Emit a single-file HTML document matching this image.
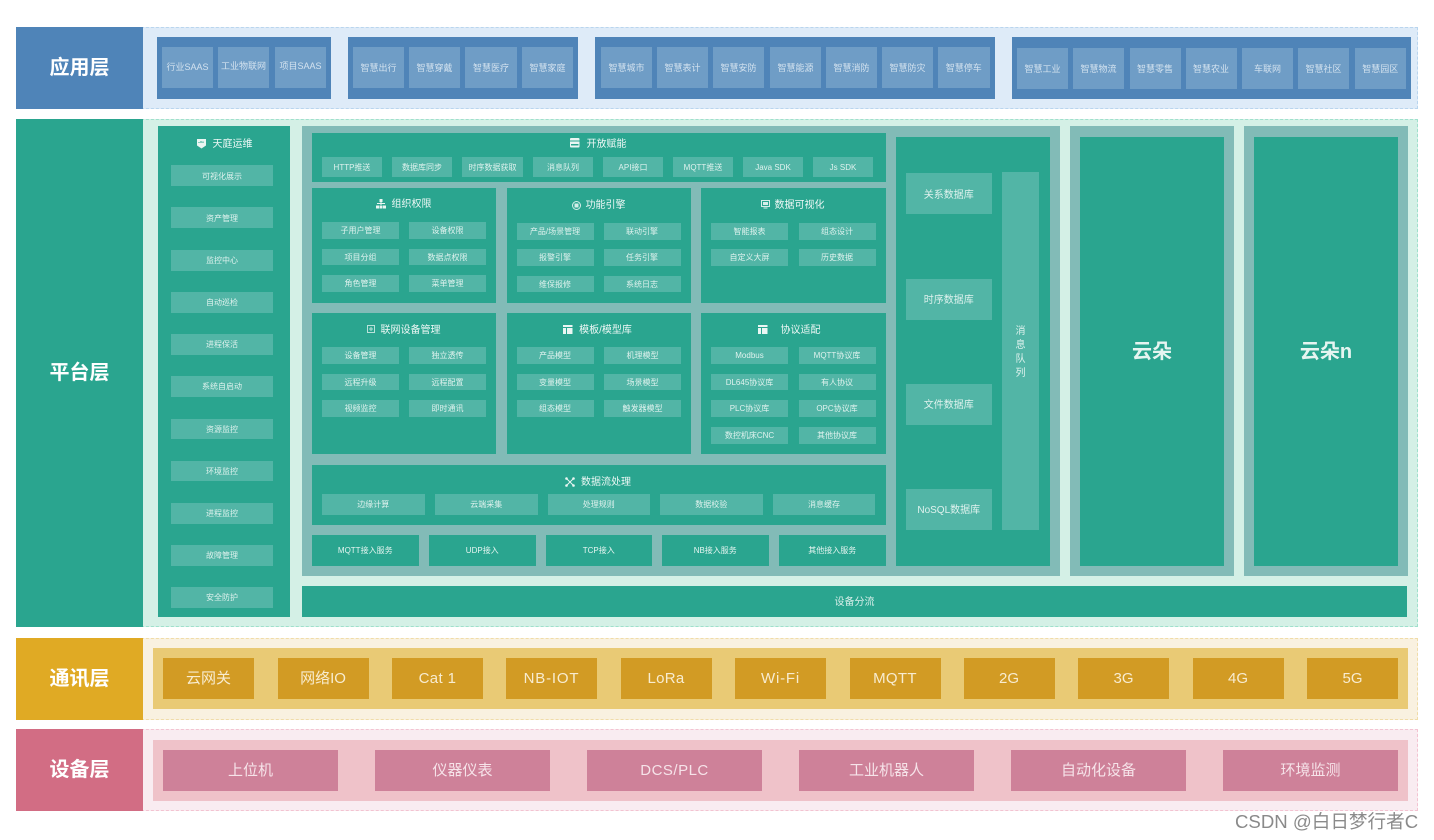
<!DOCTYPE html>
<html lang="zh-CN"><head><meta charset="utf-8"><title>架构图</title>
<style>
html,body{margin:0;padding:0;background:#fff;width:1434px;height:840px;overflow:hidden}
#r{position:relative;width:1434px;height:840px;overflow:hidden;font-family:"Liberation Sans","Noto Sans CJK SC",sans-serif;filter:blur(.35px)}
#r div{position:absolute;box-sizing:border-box;display:flex;align-items:center;justify-content:center;text-align:center;white-space:nowrap;line-height:1}
.o{border:1px dashed}
.l{font-size:20px;font-weight:bold;color:#fff}
.ab{background:#4f84b8}
.ai{background:#6f9dc6;color:#d3e2ef;font-size:9px;padding-top:2px}
.p{background:#2aa58f;color:#e6f5f1}
.g{background:#82bbb7}
.s{background:#52b5a6;color:#dff2ee;font-size:8px;padding-top:2px}
.t{color:#eef8f6;font-size:10px;padding-top:2px}
.m{font-size:8px}
.c{background:#d29b24;color:#f8ecd0;font-size:15px}
.d{background:#ce8199;color:#f6e3e9;font-size:15px}
svg{position:absolute}
</style></head><body><div id="r">

<!-- 应用层 -->
<div class="o" style="left:16px;top:27px;width:1402px;height:82px;background:#deebf8;border-color:#b9d5ee"></div>
<div class="l ab" style="left:16px;top:27px;width:127px;height:82px">应用层</div>
<div class="ab" style="left:157px;top:37px;width:174px;height:61.5px"></div>
<div class="ai" style="left:162px;top:47px;width:51px;height:41px;padding-top:0">行业SAAS</div>
<div class="ai" style="left:218px;top:47px;width:51px;height:41px;padding-top:0;padding-bottom:2px">工业物联网</div>
<div class="ai" style="left:275px;top:47px;width:51px;height:41px;padding-top:0;padding-bottom:2px">项目SAAS</div>
<div class="ab" style="left:347.5px;top:37px;width:230.5px;height:61.5px"></div>
<div class="ai" style="left:353px;top:47px;width:51px;height:41px">智慧出行</div>
<div class="ai" style="left:409px;top:47px;width:51px;height:41px">智慧穿戴</div>
<div class="ai" style="left:465px;top:47px;width:52px;height:41px">智慧医疗</div>
<div class="ai" style="left:522px;top:47px;width:51px;height:41px">智慧家庭</div>
<div class="ab" style="left:595px;top:37px;width:400px;height:61.5px"></div>
<div class="ai" style="left:601px;top:47px;width:51px;height:41px">智慧城市</div>
<div class="ai" style="left:657px;top:47px;width:51px;height:41px">智慧表计</div>
<div class="ai" style="left:713px;top:47px;width:51px;height:41px">智慧安防</div>
<div class="ai" style="left:770px;top:47px;width:51px;height:41px">智慧能源</div>
<div class="ai" style="left:826px;top:47px;width:51px;height:41px">智慧消防</div>
<div class="ai" style="left:882px;top:47px;width:51px;height:41px">智慧防灾</div>
<div class="ai" style="left:938px;top:47px;width:51.5px;height:41px">智慧停车</div>
<div class="ab" style="left:1011.5px;top:37px;width:399.5px;height:61.5px"></div>
<div class="ai" style="left:1017px;top:47.5px;width:51px;height:41px">智慧工业</div>
<div class="ai" style="left:1073px;top:47.5px;width:51px;height:41px">智慧物流</div>
<div class="ai" style="left:1129.5px;top:47.5px;width:51px;height:41px">智慧零售</div>
<div class="ai" style="left:1185.5px;top:47.5px;width:51px;height:41px">智慧农业</div>
<div class="ai" style="left:1242px;top:47.5px;width:51px;height:41px">车联网</div>
<div class="ai" style="left:1298px;top:47.5px;width:51px;height:41px">智慧社区</div>
<div class="ai" style="left:1354.5px;top:47.5px;width:51.5px;height:41px">智慧园区</div>

<!-- 平台层 -->
<div class="o" style="left:16px;top:119px;width:1402px;height:508px;background:#d4f0e6;border-color:#9fe0cc"></div>
<div class="l p" style="left:16px;top:119px;width:127px;height:508px;color:#fff">平台层</div>

<!-- 天庭运维 -->
<div class="p" style="left:158px;top:126px;width:132px;height:491px"></div>
<div class="t" style="left:212px;top:137px;width:41px;height:14px">天庭运维</div>
<svg style="left:197px;top:139px" width="9" height="10"><path d="M0 0h9v6.500l-4.500 3-4.500-3z" fill="#eaf6f3"/><path d="M2 4v-1M4 4v-2M6 4v-1.500" stroke="#2aa58f" stroke-width="1"/></svg>
<div class="s" style="left:171px;top:165px;width:102px;height:21px">可视化展示</div>
<div class="s" style="left:171px;top:207px;width:102px;height:21px">资产管理</div>
<div class="s" style="left:171px;top:250px;width:102px;height:20.5px">监控中心</div>
<div class="s" style="left:171px;top:292px;width:102px;height:20.5px">自动巡检</div>
<div class="s" style="left:171px;top:334px;width:102px;height:20.5px">进程保活</div>
<div class="s" style="left:171px;top:376px;width:102px;height:20.5px">系统自启动</div>
<div class="s" style="left:171px;top:418.500px;width:102px;height:20.5px">资源监控</div>
<div class="s" style="left:171px;top:460.500px;width:102px;height:20.5px">环境监控</div>
<div class="s" style="left:171px;top:503px;width:102px;height:20.5px">进程监控</div>
<div class="s" style="left:171px;top:545px;width:102px;height:20.5px">故障管理</div>
<div class="s" style="left:171px;top:587px;width:102px;height:20.5px">安全防护</div>

<!-- 中央灰色面板 -->
<div class="g" style="left:302px;top:126px;width:758px;height:450px"></div>

<!-- 开放赋能 -->
<div class="p" style="left:312px;top:133px;width:574px;height:49px"></div>
<div class="t" style="left:586px;top:136.500px;width:41px;height:14px">开放赋能</div>
<svg style="left:570px;top:138px" width="10" height="10"><rect width="9.500" height="9.500" rx="1" fill="#eaf6f3"/><rect y="2.500" width="9.500" height="1" fill="#2aa58f"/><rect x="1" y="6" width="7.500" height="1.500" fill="#2aa58f"/></svg>
<div class="s" style="left:322px;top:157px;width:60px;height:20px">HTTP推送</div>
<div class="s" style="left:392px;top:157px;width:60px;height:20px">数据库同步</div>
<div class="s" style="left:462px;top:157px;width:61px;height:20px">时序数据获取</div>
<div class="s" style="left:533px;top:157px;width:60px;height:20px">消息队列</div>
<div class="s" style="left:603px;top:157px;width:60px;height:20px">API接口</div>
<div class="s" style="left:673px;top:157px;width:60px;height:20px">MQTT推送</div>
<div class="s" style="left:743px;top:157px;width:60px;height:20px">Java SDK</div>
<div class="s" style="left:813px;top:157px;width:60px;height:20px">Js SDK</div>

<!-- 第二行 -->
<div class="p" style="left:312px;top:187.500px;width:184px;height:115px"></div>
<div class="t" style="left:391px;top:197px;width:41px;height:14px">组织权限</div>
<svg style="left:376px;top:199px" width="10" height="10"><g fill="#eaf6f3"><rect x="3.500" y="0" width="3" height="3"/><rect x="0" y="6.500" width="3" height="3"/><rect x="3.500" y="6.500" width="3" height="3"/><rect x="7" y="6.500" width="3" height="3"/><rect x="1" y="4" width="8" height="1"/><rect x="4.500" y="3" width="1" height="3"/></g></svg>
<div class="s" style="left:322px;top:222px;width:77px;height:16.5px">子用户管理</div>
<div class="s" style="left:409px;top:222px;width:77px;height:16.5px">设备权限</div>
<div class="s" style="left:322px;top:248.500px;width:77px;height:16.5px">项目分组</div>
<div class="s" style="left:409px;top:248.500px;width:77px;height:16.5px">数据点权限</div>
<div class="s" style="left:322px;top:275px;width:77px;height:16.5px">角色管理</div>
<div class="s" style="left:409px;top:275px;width:77px;height:16.5px">菜单管理</div>

<div class="p" style="left:506.500px;top:187.500px;width:184.500px;height:115px"></div>
<div class="t" style="left:585px;top:198px;width:41px;height:14px">功能引擎</div>
<svg style="left:572px;top:201px" width="9" height="9"><circle cx="4.500" cy="4.500" r="4" fill="none" stroke="#d5eee9"/><rect x="2.500" y="2.500" width="4" height="4" fill="#d5eee9"/></svg>
<div class="s" style="left:516.500px;top:223px;width:77px;height:16.5px">产品/场景管理</div>
<div class="s" style="left:603.500px;top:223px;width:77px;height:16.5px">联动引擎</div>
<div class="s" style="left:516.500px;top:249px;width:77px;height:16.5px">报警引擎</div>
<div class="s" style="left:603.500px;top:249px;width:77px;height:16.5px">任务引擎</div>
<div class="s" style="left:516.500px;top:275.500px;width:77px;height:16.5px">维保报修</div>
<div class="s" style="left:603.500px;top:275.500px;width:77px;height:16.5px">系统日志</div>

<div class="p" style="left:701px;top:187.500px;width:185px;height:115px"></div>
<div class="t" style="left:774px;top:198px;width:51px;height:14px">数据可视化</div>
<svg style="left:761px;top:200px" width="9" height="9"><rect x=".5" y=".5" width="8" height="6" fill="none" stroke="#d5eee9"/><rect x="2" y="2" width="5" height="3" fill="#d5eee9"/><rect x="2.500" y="7.500" width="4" height="1" fill="#d5eee9"/></svg>
<div class="s" style="left:711px;top:223px;width:77px;height:16.5px">智能报表</div>
<div class="s" style="left:798.500px;top:223px;width:77px;height:16.5px">组态设计</div>
<div class="s" style="left:711px;top:249px;width:77px;height:16.5px">自定义大屏</div>
<div class="s" style="left:798.500px;top:249px;width:77px;height:16.5px">历史数据</div>

<!-- 第三行 -->
<div class="p" style="left:312px;top:312.500px;width:184px;height:141.500px"></div>
<div class="t" style="left:380px;top:323px;width:61px;height:14px">联网设备管理</div>
<svg style="left:367px;top:325px" width="8" height="8"><rect x=".5" y=".5" width="7" height="7" fill="none" stroke="#b9e2da"/><path d="M2 4h4M4 2v4" stroke="#b9e2da"/></svg>
<div class="s" style="left:322px;top:347px;width:77px;height:16.5px">设备管理</div>
<div class="s" style="left:409px;top:347px;width:77px;height:16.5px">独立透传</div>
<div class="s" style="left:322px;top:373.500px;width:77px;height:16.5px">远程升级</div>
<div class="s" style="left:409px;top:373.500px;width:77px;height:16.5px">远程配置</div>
<div class="s" style="left:322px;top:400px;width:77px;height:16.5px">视频监控</div>
<div class="s" style="left:409px;top:400px;width:77px;height:16.5px">即时通讯</div>

<div class="p" style="left:506.500px;top:312.500px;width:184.500px;height:141.500px"></div>
<div class="t" style="left:577px;top:323px;width:57px;height:14px">模板/模型库</div>
<svg style="left:563px;top:325px" width="10" height="10"><rect width="9.500" height="9" fill="#eaf6f3"/><rect x="0" y="2" width="9.500" height="1" fill="#2aa58f"/><rect x="3" y="3" width="1" height="6" fill="#2aa58f"/></svg>
<div class="s" style="left:516.500px;top:347px;width:77px;height:16.5px">产品模型</div>
<div class="s" style="left:604px;top:347px;width:77px;height:16.5px">机理模型</div>
<div class="s" style="left:516.500px;top:373.500px;width:77px;height:16.5px">变量模型</div>
<div class="s" style="left:604px;top:373.500px;width:77px;height:16.5px">场景模型</div>
<div class="s" style="left:516.500px;top:400px;width:77px;height:16.5px">组态模型</div>
<div class="s" style="left:604px;top:400px;width:77px;height:16.5px">触发器模型</div>

<div class="p" style="left:701px;top:312.500px;width:185px;height:141px"></div>
<div class="t" style="left:780px;top:323px;width:41px;height:14px">协议适配</div>
<svg style="left:758px;top:325px" width="10" height="10"><rect width="9.500" height="9" fill="#eaf6f3"/><rect x="0" y="2" width="9.500" height="1" fill="#2aa58f"/><rect x="3" y="3" width="1" height="6" fill="#2aa58f"/></svg>
<div class="s" style="left:711px;top:347px;width:77px;height:16.5px">Modbus</div>
<div class="s" style="left:798.500px;top:347px;width:77px;height:16.5px">MQTT协议库</div>
<div class="s" style="left:711px;top:373.500px;width:77px;height:16.5px">DL645协议库</div>
<div class="s" style="left:798.500px;top:373.500px;width:77px;height:16.5px">有人协议</div>
<div class="s" style="left:711px;top:400px;width:77px;height:16.5px">PLC协议库</div>
<div class="s" style="left:798.500px;top:400px;width:77px;height:16.5px">OPC协议库</div>
<div class="s" style="left:711px;top:427px;width:77px;height:16.5px">数控机床CNC</div>
<div class="s" style="left:798.500px;top:427px;width:77px;height:16.5px">其他协议库</div>

<!-- 数据流处理 -->
<div class="p" style="left:312px;top:464.500px;width:574px;height:60px"></div>
<div class="t" style="left:580px;top:474.500px;width:52px;height:14px">数据流处理</div>
<svg style="left:565px;top:477px" width="10" height="10"><path d="M1.500 1.500l7 7M8.500 1.500l-7 7" stroke="#eaf6f3" stroke-width="1"/><circle cx="1.500" cy="1.500" r="1.300" fill="#eaf6f3"/><circle cx="8.500" cy="1.500" r="1.300" fill="#eaf6f3"/><circle cx="1.500" cy="8.500" r="1.300" fill="#eaf6f3"/><circle cx="8.500" cy="8.500" r="1.300" fill="#eaf6f3"/></svg>
<div class="s" style="left:322px;top:494px;width:102.500px;height:20.500px">边缘计算</div>
<div class="s" style="left:435px;top:494px;width:102.500px;height:20.500px">云端采集</div>
<div class="s" style="left:547.500px;top:494px;width:102.500px;height:20.500px">处理规则</div>
<div class="s" style="left:660px;top:494px;width:102.500px;height:20.500px">数据校验</div>
<div class="s" style="left:773px;top:494px;width:102px;height:20.500px">消息缓存</div>

<!-- 接入服务 -->
<div class="p m" style="left:312px;top:535px;width:106.500px;height:30.500px;padding-top:2px">MQTT接入服务</div>
<div class="p m" style="left:429px;top:535px;width:106.500px;height:30.500px;padding-top:2px">UDP接入</div>
<div class="p m" style="left:545.500px;top:535px;width:106.500px;height:30.500px;padding-top:2px">TCP接入</div>
<div class="p m" style="left:662px;top:535px;width:106.500px;height:30.500px;padding-top:2px">NB接入服务</div>
<div class="p m" style="left:779px;top:535px;width:106.500px;height:30.500px;padding-top:2px">其他接入服务</div>

<!-- 存储 -->
<div class="p" style="left:895.500px;top:136.500px;width:154px;height:429.500px"></div>
<div class="s" style="left:906px;top:173px;width:85.500px;height:41px;font-size:10px;padding-top:4px">关系数据库</div>
<div class="s" style="left:906px;top:278.500px;width:85.500px;height:41px;font-size:10px;padding-top:4px">时序数据库</div>
<div class="s" style="left:906px;top:384px;width:85.500px;height:41px;font-size:10px;padding-top:3px">文件数据库</div>
<div class="s" style="left:906px;top:489px;width:85.500px;height:41px;font-size:10px;padding-top:3px">NoSQL数据库</div>
<div class="s" style="left:1002px;top:172px;width:37px;height:358px;font-size:10px;line-height:14px;padding-top:4px">消<br>息<br>队<br>列</div>

<!-- 云朵 -->
<div class="g" style="left:1070px;top:126px;width:164px;height:450px"></div>
<div class="p" style="left:1080px;top:136.500px;width:144px;height:429.500px;font-size:20px;font-weight:bold;padding-top:1px">云朵</div>
<div class="g" style="left:1244px;top:126px;width:164px;height:450px"></div>
<div class="p" style="left:1254px;top:136.500px;width:144px;height:429.500px;font-size:20px;font-weight:bold;padding-top:1px">云朵n</div>

<!-- 设备分流 -->
<div class="p" style="left:302px;top:586px;width:1105px;height:31px;font-size:10px;color:#d8efea;padding-top:2px">设备分流</div>

<!-- 通讯层 -->
<div class="o" style="left:16px;top:637.500px;width:1402px;height:82px;background:#f9f1e0;border-color:#f0dca8"></div>
<div class="l" style="left:16px;top:637.500px;width:127px;height:82px;background:#e0aa24">通讯层</div>
<div style="left:153px;top:647.500px;width:1255px;height:61.500px;background:#e9ca75"></div>
<div class="c" style="left:163px;top:657.500px;width:91px;height:41px">云网关</div>
<div class="c" style="left:277.500px;top:657.500px;width:91px;height:41px">网络IO</div>
<div class="c" style="left:392px;top:657.500px;width:91px;height:41px;letter-spacing:.4px">Cat 1</div>
<div class="c" style="left:506px;top:657.500px;width:91px;height:41px;letter-spacing:.8px">NB-IOT</div>
<div class="c" style="left:620.500px;top:657.500px;width:91px;height:41px;letter-spacing:.3px">LoRa</div>
<div class="c" style="left:735px;top:657.500px;width:91px;height:41px;letter-spacing:.8px">Wi-Fi</div>
<div class="c" style="left:849.500px;top:657.500px;width:91px;height:41px;letter-spacing:.3px">MQTT</div>
<div class="c" style="left:963.500px;top:657.500px;width:91px;height:41px">2G</div>
<div class="c" style="left:1078px;top:657.500px;width:91px;height:41px">3G</div>
<div class="c" style="left:1192.500px;top:657.500px;width:91px;height:41px">4G</div>
<div class="c" style="left:1307px;top:657.500px;width:91px;height:41px">5G</div>

<!-- 设备层 -->
<div class="o" style="left:16px;top:729px;width:1402px;height:82px;background:#f9ecf1;border-color:#f3c3d1"></div>
<div class="l" style="left:16px;top:729px;width:127px;height:82px;background:#d26d84">设备层</div>
<div style="left:153px;top:739.500px;width:1255px;height:61.500px;background:#efc2c9"></div>
<div class="d" style="left:163px;top:750px;width:175px;height:41px">上位机</div>
<div class="d" style="left:375px;top:750px;width:175px;height:41px">仪器仪表</div>
<div class="d" style="left:587px;top:750px;width:175px;height:41px;letter-spacing:.5px">DCS/PLC</div>
<div class="d" style="left:799px;top:750px;width:175px;height:41px">工业机器人</div>
<div class="d" style="left:1011px;top:750px;width:175px;height:41px">自动化设备</div>
<div class="d" style="left:1223px;top:750px;width:175px;height:41px">环境监测</div>

<div style="left:1235px;top:812px;width:184px;height:21px;font-size:18.600px;color:#8a8a8a;justify-content:flex-start">CSDN @白日梦行者C</div>
</div></body></html>
